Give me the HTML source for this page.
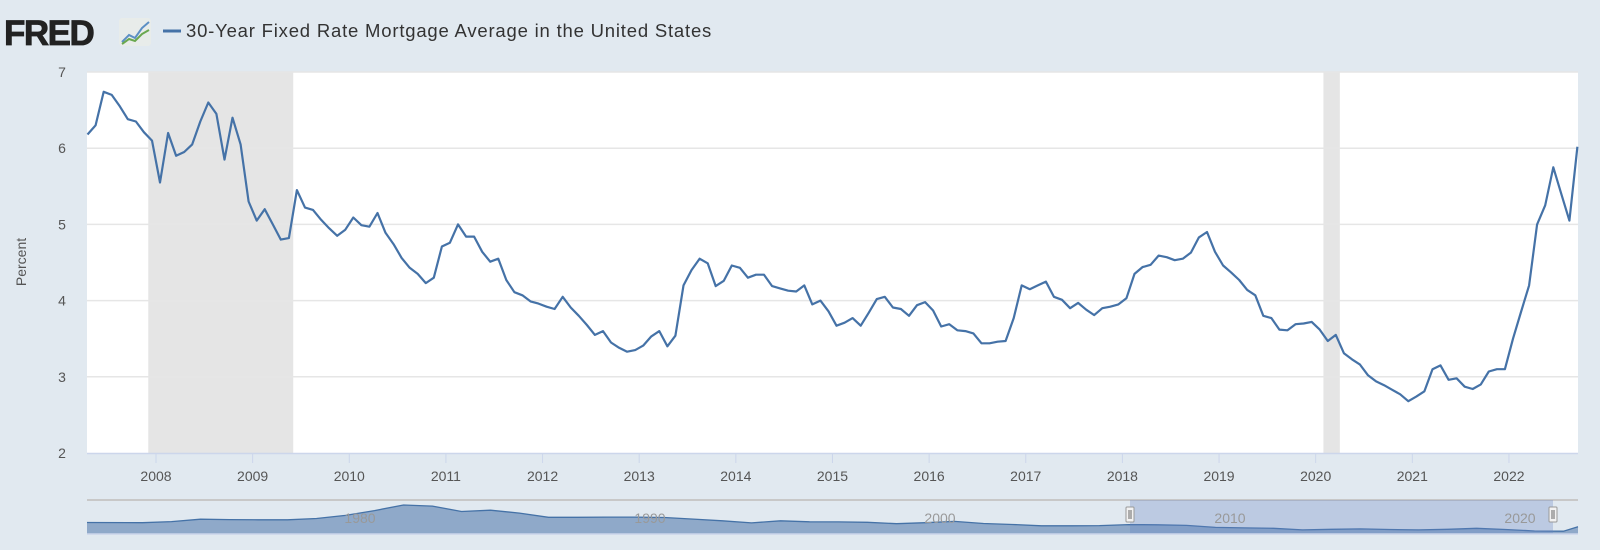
<!DOCTYPE html>
<html><head><meta charset="utf-8">
<style>
html,body{margin:0;padding:0;background:#e1e9f0;width:1600px;height:550px;overflow:hidden;font-family:"Liberation Sans",sans-serif;}
svg{position:absolute;left:0;top:0;}
</style></head>
<body>
<svg id="chart" width="1600" height="550">
  <rect x="0" y="0" width="1600" height="550" fill="#e1e9f0"/>
  <text x="4" y="45" font-size="35" font-weight="bold" fill="#222" stroke="#222" stroke-width="0.8" letter-spacing="-1.5" font-family="Liberation Sans, sans-serif">FRED</text>
  <g>
    <rect x="119" y="18" width="32" height="28" rx="3" fill="#e8ecea"/>
    <polyline points="122,42 129,35 135,38 142,28 149,22" fill="none" stroke="#5c8fc4" stroke-width="2"/>
    <polyline points="122,44 129,39 135,41 142,34 149,30" fill="none" stroke="#6aa84f" stroke-width="2"/>
  </g>
  <line x1="163" y1="31" x2="181" y2="31" stroke="#4572a7" stroke-width="3"/>
  <text x="186" y="37" font-size="18.5" fill="#333" letter-spacing="0.8">30-Year Fixed Rate Mortgage Average in the United States</text>
  <rect x="87" y="72" width="1491" height="381" fill="#fff"/>
  <g id="rec"></g>
  <g id="grid"></g>
  <g id="yt"></g>
  <g id="xt"></g>
  <text x="26" y="262" font-size="14" fill="#555" transform="rotate(-90 26 262)" text-anchor="middle">Percent</text>
  <path id="line" fill="none" stroke="#4572a7" stroke-width="2.2" stroke-linejoin="round"/>
  <g id="nav"></g>
</svg>
<script>
const startYear = 2007, startMonth = 4;
const rates = [
6.18,6.30,6.74,6.70,6.55,6.38,6.35,6.21,6.10,
5.55,6.20,5.90,5.95,6.05,6.35,6.60,6.45,5.85,6.40,6.05,5.30,
5.05,5.20,5.00,4.80,4.82,5.45,5.22,5.19,5.06,4.95,4.85,4.93,
5.09,4.99,4.97,5.15,4.89,4.74,4.56,4.43,4.35,4.23,4.30,4.71,
4.76,5.00,4.84,4.84,4.64,4.51,4.55,4.27,4.11,4.07,3.99,3.96,
3.92,3.89,4.05,3.91,3.80,3.68,3.55,3.60,3.45,3.38,3.33,3.35,
3.41,3.53,3.60,3.40,3.54,4.20,4.40,4.55,4.49,4.19,4.26,4.46,
4.43,4.30,4.34,4.34,4.19,4.16,4.13,4.12,4.20,3.95,4.00,3.86,
3.67,3.71,3.77,3.67,3.84,4.02,4.05,3.91,3.89,3.80,3.94,3.98,
3.87,3.66,3.69,3.61,3.60,3.57,3.44,3.44,3.46,3.47,3.77,4.20,
4.15,4.20,4.25,4.05,4.01,3.90,3.97,3.88,3.81,3.90,3.92,3.95,
4.03,4.35,4.44,4.47,4.59,4.57,4.53,4.55,4.63,4.83,4.90,4.64,
4.46,4.37,4.27,4.14,4.07,3.80,3.77,3.62,3.61,3.69,3.70,3.72,
3.62,3.47,3.55,3.31,3.23,3.16,3.02,2.94,2.89,2.83,2.77,2.68,
2.74,2.81,3.10,3.15,2.96,2.98,2.87,2.84,2.90,3.07,3.10,3.10,
3.50,3.85,4.20,5.00,5.25,5.75,5.40,5.05,6.02
];
const yTicks = [2,3,4,5,6,7];
const xTickYears = [2008,2009,2010,2011,2012,2013,2014,2015,2016,2017,2018,2019,2020,2021,2022];
const recessions = [[2007.92,2009.42],[2020.08,2020.25]];
const navYears = [1971,1972,1973,1974,1975,1976,1977,1978,1979,1980,1981,1982,1983,1984,1985,1986,1987,1988,1989,1990,1991,1992,1993,1994,1995,1996,1997,1998,1999,2000,2001,2002,2003,2004,2005,2006,2007,2008,2009,2010,2011,2012,2013,2014,2015,2016,2017,2018,2019,2020,2021,2022];
const navRates = [7.5,7.4,8.0,9.2,9.0,8.9,8.9,9.6,11.2,13.7,16.6,16.0,13.2,13.9,12.4,10.2,10.2,10.3,10.3,10.1,9.3,8.4,7.3,8.4,7.9,7.8,7.6,6.9,7.4,8.1,7.0,6.5,5.8,5.8,5.9,6.4,6.3,6.0,5.0,4.7,4.5,3.7,4.0,4.2,3.9,3.7,4.0,4.5,3.9,3.1,3.0,5.3];
const navLabels = [1980,1990,2000,2010,2020];

const NS='http://www.w3.org/2000/svg';
const X0=87,X1=1578,Y0=72,Y1=453;
const x = t => 156 + (t-2008)*96.64;
const y = v => Y1 - (v-2)*(Y1-Y0)/5;
const nx = t => 360 + (t-1980)*29;
const ny = v => 537 - 1.93*v;
function mk(tag,attrs,parent,txt){const e=document.createElementNS(NS,tag);for(const k in attrs)e.setAttribute(k,attrs[k]);if(txt!=null)e.textContent=txt;parent.appendChild(e);return e;}
const rec=document.getElementById('rec');
recessions.forEach(r=>{
  const e=mk('rect',{x:x(r[0]),y:Y0,width:x(r[1])-x(r[0]),height:Y1-Y0,fill:'#e5e5e5'},rec);
  
  
});
const grid=document.getElementById('grid'), yt=document.getElementById('yt');
yTicks.forEach(v=>{
  if(v>2){const g=mk('line',{x1:X0,x2:X1,y1:y(v),y2:y(v),stroke:'#e6e6e6','stroke-width':1.5},grid);
  
  }
  const t=mk('text',{x:62,y:y(v)+5,'font-size':14,fill:'#555','text-anchor':'middle'},yt,v);
  
  
});
mk('line',{x1:X0,x2:X1,y1:Y1+0.5,y2:Y1+0.5,stroke:'#ccd6eb','stroke-width':1.5},grid);
const xt=document.getElementById('xt');
xTickYears.forEach(yr=>{
  mk('line',{x1:x(yr),x2:x(yr),y1:Y1,y2:Y1+10,stroke:'#ccd6eb'},xt);
  const t=mk('text',{x:x(yr),y:481,'font-size':14,fill:'#555','text-anchor':'middle'},xt,yr);
  
  
});
let d='';
rates.forEach((v,i)=>{const t=startYear+(startMonth-1+i)/12+1/24;d+=(i?'L':'M')+x(t).toFixed(1)+','+y(v).toFixed(1);});
document.getElementById('line').setAttribute('d',d);
const nav=document.getElementById('nav');
mk('rect',{x:X0,y:500,width:X1-X0,height:34,fill:'#e1e9f0'},nav);
mk('line',{x1:X0,x2:X1,y1:500,y2:500,stroke:'#c8c8c8','stroke-width':2},nav);
let pts=[];
navYears.forEach((yr,i)=>{pts.push([nx(yr+0.5),ny(navRates[i])]);});
pts[0][0]=X0;pts[pts.length-1][0]=X1;
let ld=pts.map((p,i)=>(i?'L':'M')+p[0].toFixed(1)+','+p[1].toFixed(1)).join('');
const area=mk('path',{d:ld+'L'+X1+',534L'+X0+',534Z',fill:'#8fa9c9'},nav);


mk('path',{d:ld,fill:'none',stroke:'#4572a7','stroke-width':1.3},nav);
const sel=mk('rect',{x:1130,y:500,width:423,height:34,fill:'rgba(102,133,194,0.3)'},nav);


mk('line',{x1:X0,x2:X1,y1:534,y2:534,stroke:'#ccd6eb','stroke-width':1.5},nav);
navLabels.forEach(yr=>{
  const t=mk('text',{x:nx(yr),y:523,'font-size':14,fill:'#999','text-anchor':'middle'},nav,yr);
  
  
});
[1130,1553].forEach(hx=>{
  const h=mk('rect',{x:hx-4,y:507,width:8,height:15,fill:'#f2f2f2',stroke:'#999',rx:1},nav);
  
  
  mk('line',{x1:hx-1,x2:hx-1,y1:510,y2:519,stroke:'#666'},nav);
  mk('line',{x1:hx+1,x2:hx+1,y1:510,y2:519,stroke:'#666'},nav);
});
</script>
</body></html>
